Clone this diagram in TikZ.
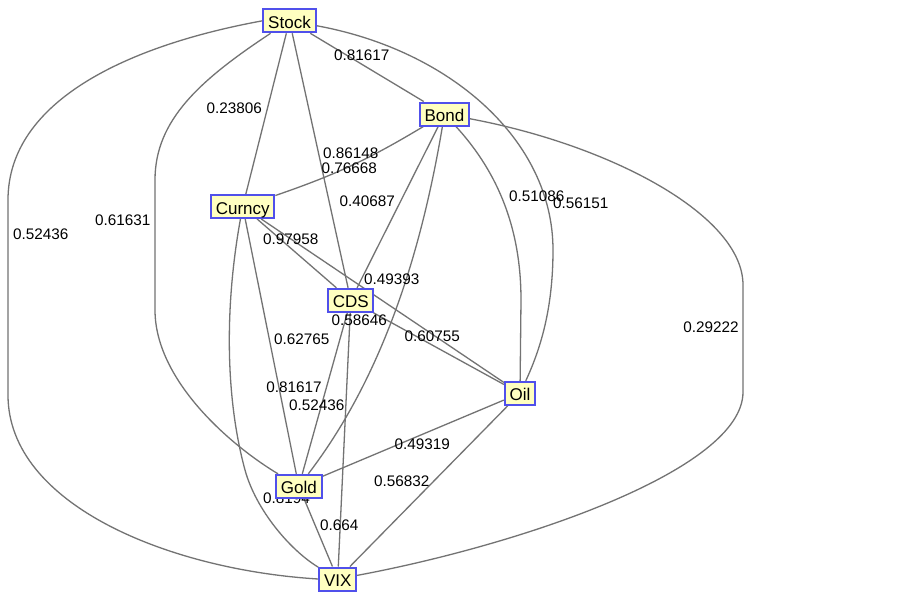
\documentclass[tikz,border=0pt]{standalone}
\usepackage{fontspec}
\setmainfont{Liberation Sans}
\usetikzlibrary{backgrounds}
\definecolor{boxblue}{RGB}{80,80,235}
\definecolor{boxfill}{RGB}{255,255,192}
\definecolor{linkgray}{RGB}{115,115,115}
\tikzset{
    asset/.style={draw=boxblue, line width=2pt, fill=boxfill, inner xsep=4.75pt, inner ysep=3.5pt,
        text height=15.5pt, text depth=0.5pt, font=\fontsize{17}{20}\selectfont},
    link/.style={draw=linkgray, line width=1.3pt},
    wt/.style={inner sep=0pt, font=\fontsize{15.3}{18}\selectfont}
}

\begin{document}
\begin{tikzpicture}[x=1pt, y=-1pt]
        \useasboundingbox (0, 0) rectangle (903, 595);
        \node[asset] (Stock) at (289.5, 20.8) {Stock};
        \node[asset] (Bond) at (444.5, 114) {Bond};
        \node[asset] (Curncy) at (242.7, 206.5) {Curncy};
        \node[asset] (CDS) at (350.8, 300.3) {CDS};
        \node[asset] (Oil) at (520, 393.3) {Oil};
        \node[asset] (Gold) at (298.8, 486.3) {Gold};
        \node[asset] (VIX) at (337.7, 579) {VIX};
        \begin{scope}[on background layer]
        \fill[white] (0, 0) rectangle (903, 595);
        \draw[link] (Stock)--(Bond);
        \draw[link] (Stock)--(Curncy);
        \draw[link] (Stock)--(CDS);
        \draw[link] (Stock) .. controls (200, 80) and (155, 120) .. (155, 180) -- (155, 310) .. controls (155, 380) and (230, 445) .. (Gold);
        \draw[link] (Stock.west) .. controls (130, 45) and (8, 100) .. (8, 200) -- (8, 395) .. controls (8, 505) and (170, 570) .. (VIX.west);
        \draw[link] (Stock) .. controls (450, 50) and (553, 140) .. (553, 250) .. controls (553, 310) and (540, 350) .. (Oil);
        \draw[link] (Bond) to[bend left=6] (Curncy);
        \draw[link] (Bond)--(CDS);
        \draw[link] (Bond) .. controls (505, 180) and (521, 240) .. (521, 300) -- (Oil);
        \draw[link] (Bond) .. controls (420, 260) and (380, 380) .. (Gold);
        \draw[link] (Bond) .. controls (610, 145) and (743, 215) .. (743, 285) -- (743, 392) .. controls (743, 470) and (520, 545) .. (VIX);
        \draw[link] (Curncy)--(CDS);
        \draw[link] (Curncy)--(Oil);
        \draw[link] (Curncy)--(Gold);
        \draw[link] (Curncy) .. controls (224, 310) and (226, 400) .. (245, 470) .. controls (256, 510) and (290, 550) .. (VIX);
        \draw[link] (CDS)--(Oil);
        \draw[link] (CDS)--(Gold);
        \draw[link] (CDS)--(VIX);
        \draw[link] (Oil)--(Gold);
        \draw[link] (Oil)--(VIX);
        \draw[link] (Gold)--(VIX);
        \node[wt] (lStockBond) at (361.7, 55) {0.81617};
        \node[wt] (lStockCurncy) at (234.3, 108.3) {0.23806};
        \node[wt] (lStockCDS) at (350.7, 153.3) {0.86148};
        \node[wt] (lBondCurncy) at (349.3, 168.3) {0.76668};
        \node[wt] (lBondCDS) at (367.3, 201.7) {0.40687};
        \node[wt] (lStockGold) at (122.7, 220.5) {0.61631};
        \node[wt] (lStockVIX) at (40.7, 234.5) {0.52436};
        \node[wt] (lBondOil) at (536.7, 196.6) {0.51086};
        \node[wt] (lStockOil) at (580.7, 203.4) {0.56151};
        \node[wt] (lBondVIX) at (711, 327) {0.29222};
        \node[wt] (lCurncyCDS) at (290.7, 239.3) {0.97958};
        \node[wt] (lCurncyOil) at (391.7, 279.3) {0.49393};
        \node[wt] (lCDSVIX) at (359.3, 320) {0.58646};
        \node[wt] (lCDSOil) at (432.3, 336.7) {0.60755};
        \node[wt] (lCurncyGold) at (301.7, 339) {0.62765};
        \node[wt] (lCDSGold) at (294, 387.3) {0.81617};
        \node[wt] (lBondGold) at (316.7, 405) {0.52436};
        \node[wt] (lOilGold) at (422.3, 444.3) {0.49319};
        \node[wt] (lOilVIX) at (401.7, 481.7) {0.56832};
        \node[wt] (lCurncyVIX) at (286.5, 498.5) {0.8194};
        \node[wt] (lGoldVIX) at (339.3, 525.7) {0.664};
        \end{scope}
\end{tikzpicture}
\end{document}
